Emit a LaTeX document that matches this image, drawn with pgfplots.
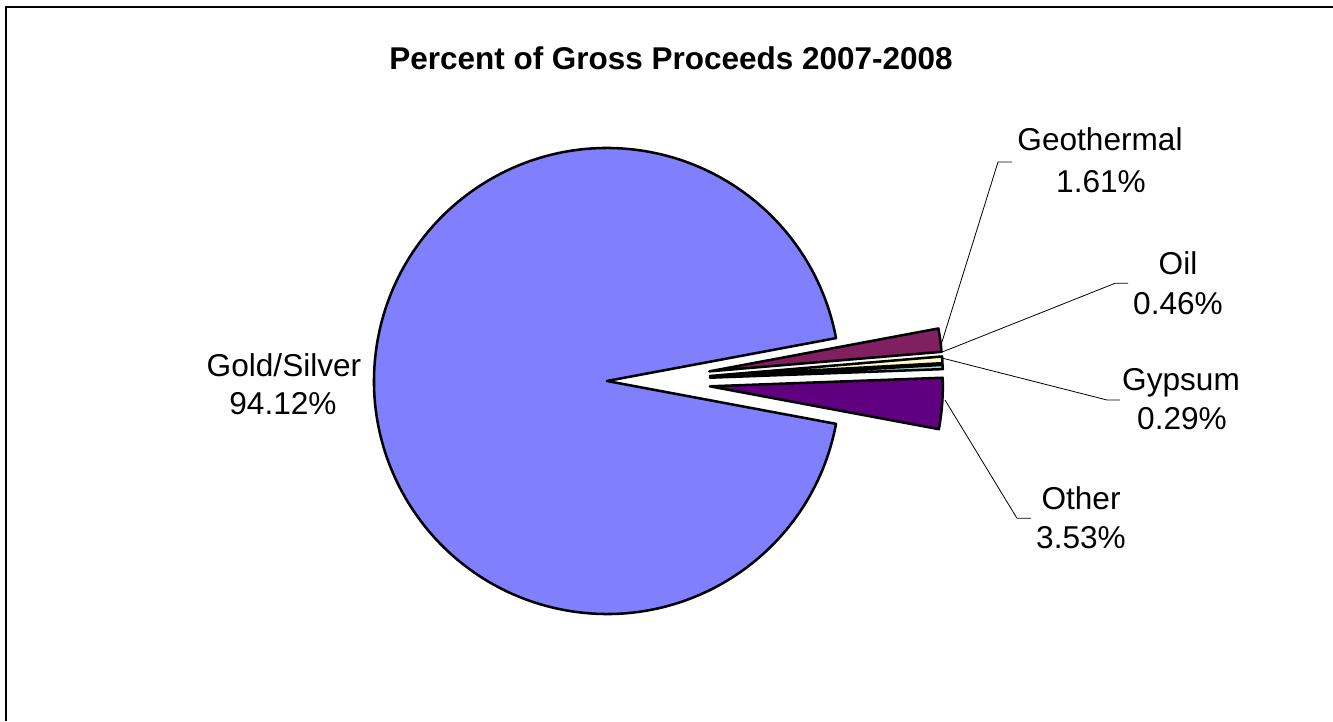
\documentclass[border=0pt]{standalone}
\usepackage{fontspec}
\setmainfont{Liberation Sans}
\usepackage{pgfplots}
\usepackage{pgfplotstable}
\pgfplotsset{compat=1.18}
\definecolor{slice0}{HTML}{8080FF}
\definecolor{slice1}{HTML}{802060}
\definecolor{slice2}{HTML}{FFFFC0}
\definecolor{slice3}{HTML}{A0E0E0}
\definecolor{slice4}{HTML}{600080}
\pgfplotstableread{
name value explode
{Gold/Silver} 94.12 31
Geothermal 1.61 72
Oil 0.46 72
Gypsum 0.29 72
Other 3.53 72
}\piedata
\newcommand{\lbl}{\fontsize{23.7pt}{28pt}\selectfont}
\begin{document}
\begin{tikzpicture}
\begin{axis}[x=0.75pt,y=0.75pt,xmin=0,xmax=1333,ymin=0,ymax=721,
  hide axis,clip=false,scale only axis]
% frame
\draw[black,line width=1pt] (axis cs:6,0) -- (axis cs:6,714) -- (axis cs:1333,714);
% slices
\def\astart{-10.6}
\pgfplotsforeachungrouped \i in {0,...,4}{%
  \pgfplotstablegetelem{\i}{value}\of\piedata \let\val\pgfplotsretval
  \pgfplotstablegetelem{\i}{explode}\of\piedata \let\ex\pgfplotsretval
  \pgfmathsetmacro\sweep{\val/100.01*360}%
  \pgfmathsetmacro\aend{\astart-\sweep}%
  \pgfmathsetmacro\amid{\astart-\sweep/2}%
  \pgfmathsetmacro\vx{638+\ex*cos(\amid)}%
  \pgfmathsetmacro\vy{340+\ex*sin(\amid)}%
  \edef\temp{\noexpand\filldraw[fill=slice\i,draw=black,line width=1.9pt,line join=round]
    (axis cs:\vx,\vy) -- ++(\astart:174.75pt) arc[start angle=\astart,end angle=\aend,radius=174.75pt] -- cycle;}%
  \temp
  \global\let\astart\aend
}
% leader lines
\draw[black,line width=0.6pt] (axis cs:941,376) -- (axis cs:998,559) -- (axis cs:1012,559);
\draw[black,line width=0.6pt] (axis cs:943,369.3) -- (axis cs:1115,437.7) -- (axis cs:1128,437.7);
\draw[black,line width=0.6pt] (axis cs:943,362.7) -- (axis cs:1107,321) -- (axis cs:1120,321);
\draw[black,line width=0.6pt] (axis cs:945,321) -- (axis cs:1017,202.7) -- (axis cs:1031,202.7);
% title
\node[anchor=base,inner sep=0pt,font=\fontsize{23.6pt}{28pt}\selectfont\bfseries] at (axis cs:671,651) {Percent of Gross Proceeds 2007-2008};
% labels
\node[anchor=base,inner sep=0pt,font=\lbl] at (axis cs:284,344) {Gold/Silver};
\node[anchor=base,inner sep=0pt,font=\lbl] at (axis cs:283,306) {94.12\%};
\node[anchor=base,inner sep=0pt,font=\lbl] at (axis cs:1100,570) {Geothermal};
\node[anchor=base,inner sep=0pt,font=\lbl] at (axis cs:1101,528) {1.61\%};
\node[anchor=base,inner sep=0pt,font=\lbl] at (axis cs:1178,446) {Oil};
\node[anchor=base,inner sep=0pt,font=\lbl] at (axis cs:1178,406) {0.46\%};
\node[anchor=base,inner sep=0pt,font=\lbl] at (axis cs:1181,330) {Gypsum};
\node[anchor=base,inner sep=0pt,font=\lbl] at (axis cs:1182,291) {0.29\%};
\node[anchor=base,inner sep=0pt,font=\lbl] at (axis cs:1081,211) {Other};
\node[anchor=base,inner sep=0pt,font=\lbl] at (axis cs:1081,173) {3.53\%};
\end{axis}
\pgfresetboundingbox
\path (current axis.south west) rectangle (current axis.north east);
\end{tikzpicture}
\end{document}
